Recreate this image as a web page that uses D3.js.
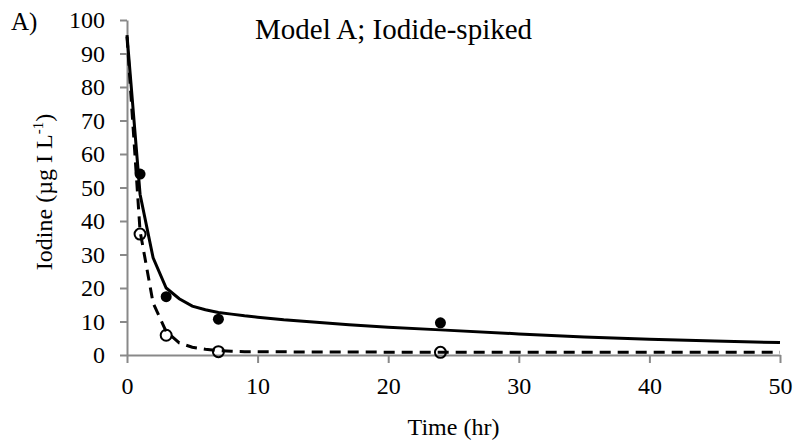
<!DOCTYPE html>
<html><head><meta charset="utf-8">
<script src="https://cdn.jsdelivr.net/npm/d3@7"></script>
<style>
body{margin:0;background:#fff}
svg text{font-family:"Liberation Serif","Times New Roman",serif !important;fill:#000}
</style>
</head><body>
<svg id="c" width="798" height="446"></svg>
<script>
// ---- data ----
const measuredTime = [1, 3, 7, 24];
const measuredTotal = [54, 17.4, 10.7, 9.6];     // filled markers
const measuredIodide = [36.1, 5.9, 1.0, 0.8];    // open markers
const modelTime   = [0, 1, 2, 3, 4, 5, 6, 7, 8, 9, 10, 12, 14, 17, 20, 24, 30, 35, 40, 45, 50];
const modelSolid  = [95.5, 48, 29, 20, 16.8, 14.6, 13.5, 12.7, 12.2, 11.7, 11.3, 10.5, 9.9, 9.0, 8.3, 7.5, 6.3, 5.4, 4.7, 4.2, 3.7];
const modelDashed = [95, 37, 15.5, 7, 3.6, 2.3, 1.7, 1.3, 1.1, 1.0, 1.0, 0.95, 0.9, 0.9, 0.85, 0.85, 0.8, 0.8, 0.8, 0.8, 0.8];
const xTicks = [0, 10, 20, 30, 40, 50];
const yTicks = [0, 10, 20, 30, 40, 50, 60, 70, 80, 90, 100];
const titleText = "Model A; Iodide-spiked";
const panelLabel = "A)";
const xLabel = "Time (hr)";

// ---- chart ----
const svg = d3.select("#c");
const x = d3.scaleLinear().domain([0, 50]).range([127, 780]);
const y = d3.scaleLinear().domain([0, 100]).range([355, 20]);
const axisColor = "#898989";
const serif = '"Liberation Serif","Times New Roman",serif';

const gy = svg.append("g").attr("transform", `translate(${x(0)},0)`)
  .call(d3.axisLeft(y).tickValues(yTicks).tickSize(7).tickSizeOuter(0).tickPadding(15));
const gx = svg.append("g").attr("transform", `translate(0,${y(0)})`)
  .call(d3.axisBottom(x).tickValues(xTicks).tickSize(8).tickSizeOuter(0).tickPadding(14));
[gx, gy].forEach(g => {
  g.attr("font-family", null).attr("font-size", null);
  g.selectAll("path.domain").attr("stroke", axisColor).attr("stroke-width", 2);
  g.selectAll(".tick line").attr("stroke", axisColor).attr("stroke-width", 2);
  g.selectAll(".tick text").style("font-size", "24px").style("font-family", serif).attr("fill", "#000");
});

const solid = modelTime.map((t, i) => [t, modelSolid[i]]);
const dashed = modelTime.map((t, i) => [t, modelDashed[i]]);
const line = d3.line().x(d => x(d[0])).y(d => y(d[1]));

svg.append("path").datum(dashed).attr("d", line)
  .attr("fill", "none").attr("stroke", "#000").attr("stroke-width", 3)
  .attr("stroke-dasharray", "11,7");
svg.append("path").datum(solid).attr("d", line)
  .attr("fill", "none").attr("stroke", "#000").attr("stroke-width", 3);

svg.append("g").selectAll("circle").data(measuredTime).join("circle")
  .attr("cx", d => x(d)).attr("cy", (d, i) => y(measuredTotal[i])).attr("r", 5.5)
  .attr("fill", "#000");
svg.append("g").selectAll("circle").data(measuredTime).join("circle")
  .attr("cx", d => x(d)).attr("cy", (d, i) => y(measuredIodide[i])).attr("r", 5.5)
  .attr("fill", "none").attr("stroke", "#000").attr("stroke-width", 2);

svg.append("text").attr("x", 255).attr("y", 39).style("font-size", "29px").text(titleText);
svg.append("text").attr("x", 11).attr("y", 30).style("font-size", "25px").text(panelLabel);
svg.append("text").attr("x", (x(0) + x(50)) / 2).attr("y", 435).attr("text-anchor", "middle")
  .style("font-size", "24px").text(xLabel);

const yl = svg.append("text").attr("transform", "translate(52,192) rotate(-90)")
  .attr("text-anchor", "middle").style("font-size", "24px");
yl.append("tspan").text("Iodine (µg I L");
yl.append("tspan").style("font-size", "15px").attr("dy", -9).text("-1");
yl.append("tspan").attr("dy", 9).text(")");
</script>
</body></html>
